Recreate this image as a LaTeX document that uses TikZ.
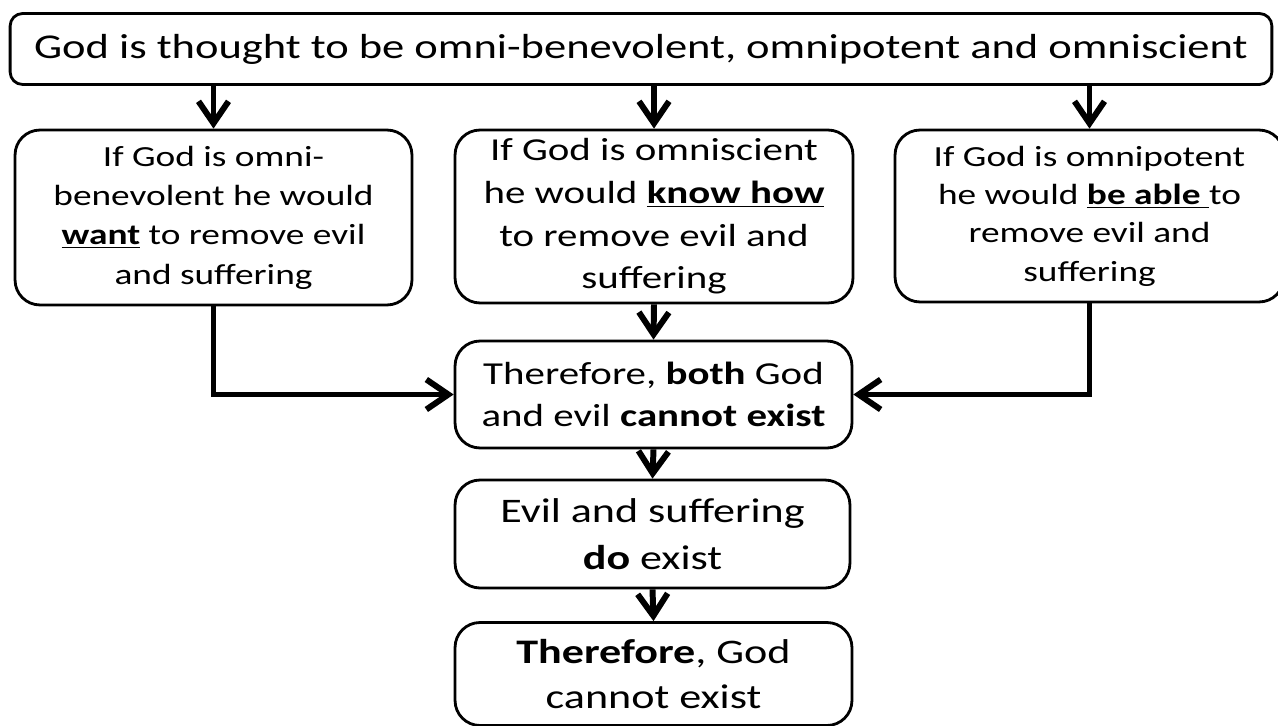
\documentclass[tikz,border=0pt]{standalone}
\usepackage{fontspec}
\setmainfont{Carlito}[FakeStretch=1.28]
\usetikzlibrary{arrows.meta}

\begin{document}
\begin{tikzpicture}[x=0.02cm, y=-0.02cm,
    box/.style={draw, line width=1.6pt, rounded corners=0.5cm, align=center, inner sep=0pt},
    conn/.style={line width=3.4pt, -{Straight Barb[length=0.44cm, width=0.6cm]}}]
    \useasboundingbox (0,0) rectangle (1278,726);
    \clip (0,0) rectangle (1278,726);

    % Premise
    \node[box, rounded corners=0.25cm, minimum width=25.24cm, minimum height=1.42cm,
          font=\fontsize{19.8}{26}\selectfont] (premise) at (641,49)
          {God is thought to be omni-benevolent, omnipotent and omniscient};

    % Three attributes
    \node[box, minimum width=7.94cm, minimum height=3.5cm, font=\fontsize{16.6}{22.4}\selectfont] (benev) at (213.5,217.5)
          {If God is omni-\\benevolent he would\\\underline{\textbf{want}} to remove evil\\and suffering};
    \node[box, minimum width=7.96cm, minimum height=3.46cm, font=\fontsize{18.2}{24.3}\selectfont] (omnisc) at (654,216.5)
          {If God is omniscient\\he would \underline{\textbf{know how}}\\to remove evil and\\suffering};
    \node[box, minimum width=7.78cm, minimum height=3.44cm, font=\fontsize{16.6}{21.8}\selectfont] (omnipot) at (1089.5,216)
          {If God is omnipotent\\he would \underline{\textbf{be able}\ }to\\remove evil and\\suffering};

    % Conclusions
    \node[box, minimum width=7.94cm, minimum height=2.14cm, font=\fontsize{18.2}{24}\selectfont] (both) at (653.5,394.5)
          {Therefore, \textbf{both} God\\and evil \textbf{cannot exist}};
    \node[box, minimum width=7.9cm, minimum height=2.16cm, font=\fontsize{19.6}{26.7}\selectfont] (exist) at (652.5,534)
          {Evil and suffering\\\textbf{do} exist};
    \node[box, minimum width=7.94cm, minimum height=2.06cm, font=\fontsize{19.6}{26}\selectfont] (concl) at (653.5,674)
          {\textbf{Therefore}, God\\cannot exist};

    % Connections
    \draw[conn] (premise.south -| benev.north) -- (benev.north);
    \draw[conn] (premise.south -| omnisc.north) -- (omnisc.north);
    \draw[conn] (premise.south -| omnipot.north) -- (omnipot.north);
    \draw[conn] (benev.south) |- (both.west);
    \draw[conn] (omnipot.south) |- (both.east);
    \draw[conn] (omnisc.south) -- (both.north);
    \draw[conn] (both.south) -- (exist.north);
    \draw[conn] (exist.south) -- (concl.north);
\end{tikzpicture}
\end{document}
